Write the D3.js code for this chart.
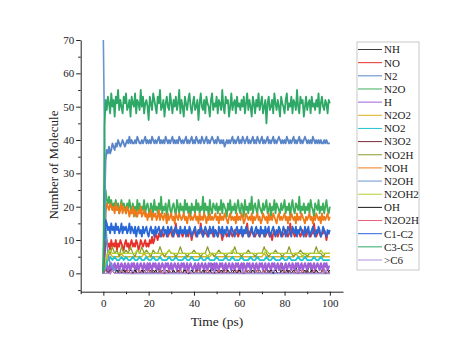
<!DOCTYPE html>
<html><head><meta charset="utf-8">
<script src="https://cdn.jsdelivr.net/npm/d3@7"></script>
<style>body{margin:0;background:#fff}svg{display:block}</style>
</head><body>
<svg id="c" width="453" height="348"></svg>
<script>
// Time grids (ps)
const tFine = [
0,0.5,1,1.5,2,2.5,3,3.5,4,4.5,5,5.5,6,6.5,7,7.5,8,8.5,9,9.5,
10,10.5,11,11.5,12,12.5,13,13.5,14,14.5,15,15.5,16,16.5,17,17.5,18,18.5,19,19.5,
20,20.5,21,21.5,22,22.5,23,23.5,24,24.5,25,25.5,26,26.5,27,27.5,28,28.5,29,29.5,
30,30.5,31,31.5,32,32.5,33,33.5,34,34.5,35,35.5,36,36.5,37,37.5,38,38.5,39,39.5,
40,40.5,41,41.5,42,42.5,43,43.5,44,44.5,45,45.5,46,46.5,47,47.5,48,48.5,49,49.5,
50,50.5,51,51.5,52,52.5,53,53.5,54,54.5,55,55.5,56,56.5,57,57.5,58,58.5,59,59.5,
60,60.5,61,61.5,62,62.5,63,63.5,64,64.5,65,65.5,66,66.5,67,67.5,68,68.5,69,69.5,
70,70.5,71,71.5,72,72.5,73,73.5,74,74.5,75,75.5,76,76.5,77,77.5,78,78.5,79,79.5,
80,80.5,81,81.5,82,82.5,83,83.5,84,84.5,85,85.5,86,86.5,87,87.5,88,88.5,89,89.5,
90,90.5,91,91.5,92,92.5,93,93.5,94,94.5,95,95.5,96,96.5,97,97.5,98,98.5,99,99.5,
100];
const tCoarse = [
0,1,2,3,4,5,6,7,8,9,10,11,12,13,14,15,16,17,18,19,
20,21,22,23,24,25,26,27,28,29,30,31,32,33,34,35,36,37,38,39,
40,41,42,43,44,45,46,47,48,49,50,51,52,53,54,55,56,57,58,59,
60,61,62,63,64,65,66,67,68,69,70,71,72,73,74,75,76,77,78,79,
80,81,82,83,84,85,86,87,88,89,90,91,92,93,94,95,96,97,98,99,
100];

// Series names (legend order), colours and line widths
const seriesNames = ["NH","NO","N2","N2O","H","N2O2","NO2","N3O2","NO2H","NOH","N2OH","N2OH2","OH","N2O2H","C1-C2","C3-C5",">C6"];
const seriesColors = ["#3c3c3c","#e8302a","#5a86c8","#3cae5c","#a060d8","#d8b020","#22c4d4","#7a2e3a","#8c9a28","#f07a1a","#6a96d0","#b0d030","#1a1a1a","#e8607a","#2a68d8","#2ea866","#b090e0"];
const seriesWidths = [1,1.8,1.8,1.8,2.2,1.4,1.8,1,1.2,1.8,1.6,1.4,1,1,1.8,1.8,1.2];

// Values (number of molecules)
const vNH = [
0,2,0,3,1,0,0,1,0,2,0,0,1,0,0,2,0,0,1,0,
0,1,0,0,2,0,0,1,0,0,3,0,0,1,0,0,2,0,0,1,
0,0,2,0,0,1,0,0,3,0,0,1,0,0,2,0,0,1,0,0,
2,0,0,1,0,0,3,0,0,1,0,0,2,0,0,0,1,0,0,3,
0,0,1,0,0,2,0,0,1,0,0,3,0,0,1,0,0,2,0,0,
0];
const vNO = [
0,4,9,10,8,9,7,10,8,9,8,10,7,9,8,10,9,8,7,9,
10,8,9,7,9,10,8,9,8,10,9,7,8,10,9,8,9,10,8,9,
8,10,9,11,9,10,12,11,10,12,11,13,12,11,12,13,12,11,12,13,
12,11,13,12,15,12,11,12,13,12,11,12,13,12,12,11,13,12,10,12,
13,12,11,12,13,12,15,12,11,13,12,12,11,13,12,12,13,11,12,13,
12,11,12,13,12,10,12,13,12,11,12,12,13,12,11,12,13,12,12,11,
12,13,12,11,12,13,12,15,12,11,12,13,12,12,11,12,13,12,11,12,
13,12,12,11,12,13,12,11,12,10,12,13,12,12,11,12,13,12,11,12,
12,13,12,11,12,15,12,13,12,11,12,12,13,12,11,12,13,12,12,11,
12,13,12,11,12,12,15,12,11,12,13,12,11,12,12,13,12,10,12,12,
12];
const vN2 = [
0,20,34,37,36,38,36,37,39,38,37,39,38,40,39,38,39,40,39,38,
39,40,39,41,39,40,39,39,40,39,41,40,39,39,40,39,40,41,39,40,
39,40,39,41,40,39,40,39,40,41,39,40,39,40,39,41,40,39,40,39,
40,41,39,40,39,40,39,41,40,39,40,39,40,41,39,40,39,40,41,39,
40,39,41,40,39,40,39,41,40,39,40,41,39,40,39,40,41,40,39,40,
39,41,40,39,40,39,40,38,39,40,39,40,39,40,41,39,40,39,40,41,
39,40,39,41,40,39,40,41,39,40,39,40,41,39,40,39,41,40,39,40,
41,39,40,39,40,41,39,40,39,40,41,39,40,39,40,41,40,39,40,39,
40,39,41,40,39,40,39,40,41,39,40,39,40,41,39,40,39,40,41,40,
39,40,39,40,39,41,40,39,40,39,40,39,40,39,39,40,39,40,39,39,
39];
const vN2O = [
0,16,25,22,21,23,20,22,19,21,20,22,19,21,18,20,22,19,21,20,
18,21,19,22,20,18,21,19,20,17,22,19,21,18,20,19,22,18,20,21,
19,17,21,20,18,22,19,20,18,21,19,23,18,20,19,21,17,20,22,19,
18,20,21,19,17,22,20,18,21,19,20,18,22,19,21,18,20,17,21,19,
20,18,22,19,21,18,20,19,23,18,21,19,20,17,22,19,18,21,20,19,
21,18,20,19,22,18,21,20,19,17,21,19,22,18,20,19,21,18,20,22,
19,18,21,20,17,22,19,20,18,21,19,23,18,20,21,19,18,22,20,19,
18,21,19,20,22,18,19,21,17,20,19,22,18,21,20,19,18,21,19,20,
22,18,20,19,21,17,20,22,19,18,21,20,19,23,18,20,19,21,18,20,
19,21,18,22,20,19,17,21,20,19,22,18,20,19,21,18,20,22,19,18,
20];
const vH = [
0,1,2,3,1,2,0,3,1,2,3,1,2,3,1,2,3,2,1,3,
2,1,3,2,1,3,2,3,1,2,3,1,2,3,2,1,3,2,1,3,
1,3,2,1,3,2,3,1,2,3,1,2,3,2,1,3,2,3,1,2,
3,1,2,3,2,1,3,2,1,3,2,3,1,2,3,1,2,3,2,1,
2,3,1,2,3,1,2,3,2,1,3,2,1,3,2,3,1,2,3,1,
3,2,1,3,2,3,1,2,3,1,2,3,2,1,3,2,1,3,2,3,
1,2,3,1,3,2,1,3,2,3,1,2,3,2,1,3,2,1,3,2,
3,1,2,3,1,2,3,2,1,3,2,3,1,2,3,1,2,3,2,1,
2,3,1,2,3,2,1,3,2,1,3,2,3,1,2,3,1,2,3,2,
1,3,2,3,1,2,3,1,2,3,2,1,3,2,1,3,2,3,1,2,
2];
const vN2O2 = [
0,3,5,6,5,5,5,5,6,5,5,5,5,5,5,5,5,5,6,5,
5,5,5,5,5,5,6,5,5,5,5,5,5,5,5,5,5,5,5,5,
5,5,5,5,5,5,5,5,6,5,5,5,5,5,5,5,5,5,5,5,
5,5,5,5,5,5,5,5,5,5,5,6,5,5,5,5,5,5,5,5,
5,5,5,5,5,6,5,5,5,5,5,5,5,5,5,5,5,5,5,5,
5];
const vNO2 = [
0,2,4,5,4,5,4,4,5,4,5,4,4,5,4,4,5,4,4,5,
4,4,5,4,4,5,4,4,4,5,4,4,5,4,4,4,5,4,4,5,
4,4,4,5,4,4,5,4,4,4,5,4,4,4,5,4,4,5,4,4,
4,5,4,4,4,5,4,4,5,4,4,4,5,4,4,5,4,4,4,5,
4,4,5,4,4,4,5,4,4,5,4,4,4,5,4,4,5,4,4,4,
4];
const vN3O2 = [
0,1,0,1,1,0,0,1,0,0,1,0,0,0,1,0,0,1,0,0,
0,0,1,0,0,0,1,0,0,1,0,0,0,1,0,0,0,0,1,0,
0,1,0,0,0,1,0,0,0,0,1,0,0,1,0,0,0,1,0,0,
1,0,0,0,1,0,0,0,1,0,0,0,0,1,0,0,1,0,0,0,
0,0,1,0,0,0,0,1,0,0,1,0,0,0,1,0,0,0,0,1,
0];
const vNO2H = [
0,3,7,6,8,6,7,5,8,6,7,6,8,6,5,7,6,8,6,7,
6,5,7,6,6,8,6,5,6,7,6,6,5,6,8,6,6,5,6,6,
7,6,6,5,6,6,8,6,6,5,6,7,6,6,5,6,6,6,8,6,
6,5,6,6,7,6,6,5,6,6,6,8,6,5,6,6,7,6,6,5,
6,6,8,6,5,6,6,7,6,6,5,6,6,6,8,6,6,5,6,6,
6];
const vNOH = [
0,10,18,21,20,19,21,20,19,20,18,21,19,20,18,19,21,18,20,19,
18,20,19,17,19,18,20,17,19,18,17,19,18,20,17,18,19,17,18,16,
18,17,19,16,18,17,18,16,17,19,16,18,17,16,18,17,15,18,16,17,
18,16,17,15,18,17,16,18,17,16,17,18,16,17,15,17,18,16,17,16,
17,18,16,17,15,18,16,17,16,18,17,15,17,16,18,16,17,16,17,18,
16,17,15,18,16,17,16,18,17,16,15,17,18,16,17,16,17,15,18,16,
17,16,18,17,15,16,18,17,16,17,16,18,15,17,16,17,18,16,17,15,
16,18,17,16,17,15,18,16,17,16,18,17,16,15,17,18,16,17,16,17,
18,16,17,15,17,16,18,17,16,17,15,18,16,17,16,18,17,16,15,17,
16,17,18,16,17,15,17,16,18,17,16,17,15,18,16,17,16,17,18,16,
17];
const vN2OH = [
70,15,6,3,2,1,1,0,1,0,0,0,0,0,0,0,0,0,0,0,
0,0,0,0,0,0,0,0,0,0,0,0,0,0,0,0,0,0,0,0,
0,0,0,0,0,0,0,0,0,0,0,0,0,0,0,0,0,0,0,0,
0,0,0,0,0,0,0,0,0,0,0,0,0,0,0,0,0,0,0,0,
0,0,0,0,0,0,0,0,0,0,0,0,0,0,0,0,0,0,0,0,
0];
const vN2OH2 = [
0,4,6,7,6,6,6,6,6,6,6,6,6,6,6,7,6,6,6,6,
6,6,6,6,6,6,6,6,6,7,6,6,6,6,6,6,6,6,6,6,
6,6,6,6,6,6,5,6,6,6,6,6,6,6,6,6,6,7,6,6,
6,6,6,6,6,6,6,6,6,6,6,6,7,6,6,6,6,6,6,6,
6,6,6,6,6,6,6,6,5,6,6,6,6,6,6,6,7,6,6,6,
6];
const vOH = [
0,1,0,0,1,0,1,0,0,1,0,0,1,0,1,0,0,1,0,0,
1,0,0,1,0,1,0,0,1,0,0,1,0,0,1,0,1,0,0,1,
0,0,1,0,1,0,0,1,0,0,1,0,1,0,0,1,0,0,1,0,
1,0,0,1,0,0,1,0,1,0,0,1,0,0,1,0,1,0,0,1,
0,1,0,0,1,0,1,0,0,1,0,0,1,0,1,0,0,1,0,0,
1];
const vN2O2H = [
0,1,0,0,1,0,0,0,1,0,0,1,0,0,0,0,1,0,0,0,
1,0,0,0,0,1,0,0,0,1,0,0,0,0,1,0,0,1,0,0,
0,0,1,0,0,0,1,0,0,0,0,1,0,0,1,0,0,0,0,1,
0,0,0,1,0,0,0,0,1,0,0,1,0,0,0,1,0,0,0,0,
1,0,0,0,0,1,0,0,1,0,0,0,0,1,0,0,0,1,0,0,
0];
const vC1C2 = [
0,8,16,15,13,14,12,15,13,14,12,15,13,14,12,13,15,12,14,13,
14,12,13,15,12,14,13,12,14,11,13,14,12,13,11,14,12,13,14,12,
11,13,14,12,13,11,14,12,13,14,12,11,13,14,12,13,11,14,12,13,
14,12,11,13,14,12,13,11,14,12,13,12,14,11,13,12,14,13,11,12,
13,14,12,11,13,12,14,13,11,12,14,13,12,11,14,12,13,14,11,13,
12,11,14,13,12,14,11,13,12,14,13,11,12,14,13,12,11,13,14,12,
13,12,14,11,13,12,14,13,11,12,13,14,12,11,13,14,12,13,11,14,
12,13,11,14,12,13,14,11,12,13,14,12,11,13,12,14,13,11,12,14,
13,11,12,14,13,12,11,14,13,12,14,11,13,12,14,13,12,11,14,12,
13,14,11,12,13,14,12,11,13,12,14,13,11,12,14,13,12,11,13,12,
13];
const vC3C5 = [
0,44,52,49,53,51,48,54,50,52,47,53,51,55,49,52,50,48,53,51,
54,49,50,52,47,53,51,50,54,48,52,51,49,55,50,53,48,51,52,50,
46,53,51,49,54,52,50,48,53,51,55,49,50,52,47,51,53,50,49,54,
51,48,52,50,53,49,51,55,48,52,50,47,53,51,49,52,54,50,48,51,
53,49,50,52,46,51,54,50,49,52,48,53,51,50,47,52,54,49,51,50,
53,48,52,51,49,55,50,48,53,51,52,47,50,54,49,51,52,48,53,50,
51,49,52,50,53,48,51,54,49,52,50,47,53,51,48,52,50,54,49,51,
53,48,50,52,45,51,53,49,50,52,48,54,51,49,52,50,47,53,51,50,
48,52,54,49,51,50,53,48,52,51,49,55,50,48,53,51,52,47,50,53,
49,51,52,48,53,50,51,49,52,50,54,48,51,53,50,49,52,51,48,52,
51];
const vC6 = [
0,0,0,0,1,0,0,0,0,0,0,0,0,1,0,0,0,0,0,0,
0,0,0,0,0,0,0,1,0,0,0,0,0,0,0,0,0,0,1,0,
0,0,0,0,0,0,0,0,0,1,0,0,0,0,0,0,0,0,0,0,
0,0,1,0,0,0,0,0,0,0,0,0,0,0,0,1,0,0,0,0,
0,0,0,0,0,0,1,0,0,0,0,0,0,0,0,0,0,0,1,0,
0];

const xTicks = [0,20,40,60,80,100];
const yTicks = [0,10,20,30,40,50,60,70];

const seriesValues = [vNH,vNO,vN2,vN2O,vH,vN2O2,vNO2,vN3O2,vNO2H,vNOH,vN2OH,vN2OH2,vOH,vN2O2H,vC1C2,vC3C5,vC6];
const seriesTimes = seriesValues.map(v => v.length === tFine.length ? tFine : tCoarse);

const svg = d3.select("#c");
const x = d3.scaleLinear().domain([-10, 105.8]).range([80.7, 343]);
const y = d3.scaleLinear().domain([-5.5, 70]).range([291.7, 40]);
const font = "'Liberation Serif','Times New Roman',serif";

// lines
const line = d3.line().x(d => x(d[0])).y(d => y(d[1]));
seriesValues.forEach((vals, i) => {
  const t = seriesTimes[i];
  const pts = vals.map((v, j) => [t[j], v]);
  svg.append("path").attr("d", line(pts)).attr("fill", "none")
    .attr("stroke", seriesColors[i]).attr("stroke-width", seriesWidths[i])
    .attr("stroke-linejoin", "round");
});

// axes
const gx = svg.append("g").attr("transform", `translate(0,${y.range()[0]})`)
  .call(d3.axisBottom(x).tickValues(xTicks).tickSize(4).tickPadding(4).tickSizeOuter(0));
const gxm = svg.append("g").attr("transform", `translate(0,${y.range()[0]})`)
  .call(d3.axisBottom(x).tickValues([-10,10,30,50,70,90]).tickSize(2.5).tickFormat("").tickSizeOuter(0));
gxm.select(".domain").remove();
const gy = svg.append("g").attr("transform", `translate(${x.range()[0]},0)`)
  .call(d3.axisLeft(y).tickValues(yTicks).tickSize(4.5).tickPadding(2).tickSizeOuter(0));
const gym = svg.append("g").attr("transform", `translate(${x.range()[0]},0)`)
  .call(d3.axisLeft(y).tickValues([-5,5,15,25,35,45,55,65]).tickSize(2.5).tickFormat("").tickSizeOuter(0));
gym.select(".domain").remove();
[gx,gy,gxm,gym].forEach(g => {
  g.selectAll("text").style("font-family", font).attr("font-size", 11).attr("fill", "#222");
  g.selectAll("line,path").attr("stroke", "#222").attr("stroke-width", 1);
});

// titles
svg.append("text").attr("x", 217).attr("y", 326).attr("text-anchor", "middle")
  .style("font-family", font).attr("font-size", 13.5).attr("fill", "#222").text("Time (ps)");
svg.append("text").attr("transform", "translate(58,165) rotate(-90)").attr("text-anchor", "middle")
  .style("font-family", font).attr("font-size", 13).attr("fill", "#222").text("Number of Molecule");

// legend
const lg = svg.append("g");
lg.append("rect").attr("x", 357).attr("y", 42).attr("width", 62).attr("height", 228)
  .attr("fill", "none").attr("stroke", "#c8c8c8").attr("stroke-width", 1);
const ly = d3.scalePoint().domain(seriesNames).range([49.5, 260]);
seriesNames.forEach((n, i) => {
  lg.append("line").attr("x1", 358).attr("x2", 382).attr("y1", ly(n)).attr("y2", ly(n))
    .attr("stroke", seriesColors[i]).attr("stroke-width", 1);
  lg.append("text").attr("x", 384).attr("y", ly(n)).attr("dy", "0.35em")
    .style("font-family", font).attr("font-size", 11).attr("fill", "#222").text(n);
});
</script>
</body></html>
